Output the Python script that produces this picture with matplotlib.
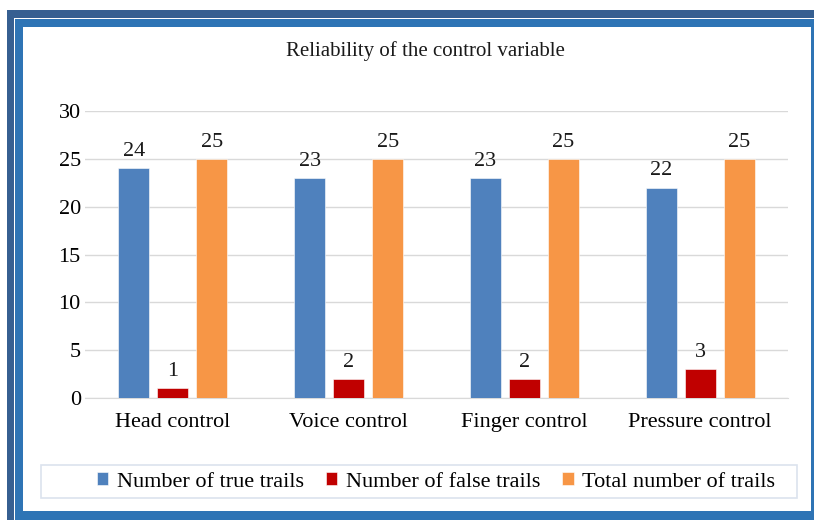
import numpy as np
from matplotlib import pyplot as plt
from matplotlib.patches import Rectangle

categories = ["Head control", "Voice control", "Finger control", "Pressure control"]
true_trails = [24, 23, 23, 22]
false_trails = [1, 2, 2, 3]
total_trails = [25, 25, 25, 25]
series_names = ["Number of true trails", "Number of false trails", "Total number of trails"]
colors = ["#4f81bd", "#c00000", "#f79646"]

W, H = 814, 520
plt.rcParams["font.family"] = ["Liberation Serif", "DejaVu Serif"]

fig = plt.figure(figsize=(W / 100, H / 100), dpi=100)


def px_rect(x0, y0, x1, y1, color, z):
	# pixel coords, origin top left
	fig.patches.append(Rectangle((x0 / W, 1 - y1 / H), (x1 - x0) / W, (y1 - y0) / H,
								 transform=fig.transFigure, facecolor=color, edgecolor="none",
								 zorder=z))


# blue frame round the chart
px_rect(7, 10, 830, 530, "#365f91", -10)
px_rect(14, 18, 830, 530, "#ffffff", -9)
px_rect(15, 19, 814, 520, "#2e74b5", -8)
px_rect(23, 27, 811, 511, "#ffffff", -7)

# legend box
fig.patches.append(Rectangle((41 / W, 1 - 498 / H), (797 - 41) / W, (498 - 465) / H,
							 transform=fig.transFigure, facecolor="white",
							 edgecolor="#dce3ee", linewidth=1.2, zorder=-6))

ax = fig.add_axes([85 / W, 1 - 398 / H, (788 - 85) / W, (398 - 111) / H])
ax.set_facecolor("none")

x = np.arange(len(categories))
width = 0.176
step = 0.222
for k, vals in enumerate([true_trails, false_trails, total_trails]):
	bars = ax.bar(x + (k - 1) * step, vals, width, color=colors[k], edgecolor="white",
				  linewidth=0.4, label=series_names[k], zorder=3)
	for b, v in zip(bars, vals):
		ax.text(b.get_x() + b.get_width() / 2, v + 0.75, str(v), ha="center", va="bottom",
				fontsize=16, color="#1a1a1a")

ax.set_xlim(-0.5, 3.5)
ax.set_ylim(0, 30)
ax.set_yticks(range(0, 31, 5))
ax.set_xticks(x)
ax.set_xticklabels(categories, fontsize=16)
ax.tick_params(axis="y", labelsize=16, length=0, pad=3)
ax.tick_params(axis="x", length=0, pad=11)
ax.grid(axis="y", color="#d9d9d9", linewidth=1, zorder=0)
for s in ["top", "right", "left"]:
	ax.spines[s].set_visible(False)
ax.spines["bottom"].set_color("#d9d9d9")

fig.text(425 / W, 1 - 51 / H, "Reliability of the control variable", ha="center", va="center",
		 fontsize=15, color="#1a1a1a")

handles, labels = ax.get_legend_handles_labels()
fig.legend(handles, labels, loc="center", bbox_to_anchor=(436 / W, 1 - 482 / H), ncol=3,
		   frameon=False, fontsize=16, handlelength=0.5, handleheight=0.5, handletextpad=0.4,
		   columnspacing=1.0)

fig.savefig("out.png", dpi=100)
